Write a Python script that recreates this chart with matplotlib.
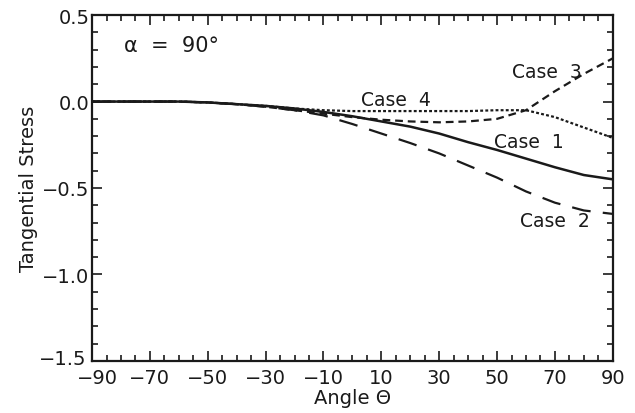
import matplotlib
matplotlib.use('Agg')
import matplotlib.pyplot as plt
from matplotlib.ticker import MultipleLocator
from matplotlib.transforms import ScaledTranslation

# angle (deg) and tangential stress
theta = [-90, -80, -70, -60, -50, -40, -30, -20, -10, 0, 10, 20, 30, 40, 50, 60, 70, 80, 90]
case1 = [0, 0, 0, 0, -0.005, -0.015, -0.025, -0.04, -0.06, -0.085, -0.115, -0.145, -0.185,
         -0.235, -0.28, -0.33, -0.38, -0.425, -0.45]
case2 = [0, 0, 0, 0, -0.005, -0.015, -0.03, -0.05, -0.08, -0.13, -0.185, -0.24, -0.30,
         -0.37, -0.44, -0.52, -0.585, -0.63, -0.65]
case3 = [0, 0, 0, 0, -0.005, -0.015, -0.03, -0.05, -0.07, -0.09, -0.105, -0.115, -0.12,
         -0.115, -0.10, -0.05, 0.06, 0.16, 0.25]
case4 = [0, 0, 0, 0, -0.005, -0.015, -0.025, -0.04, -0.05, -0.055, -0.055, -0.055, -0.055,
         -0.055, -0.05, -0.05, -0.09, -0.15, -0.21]

xticks = [-90, -70, -50, -30, -10, 10, 30, 50, 70, 90]
yticks = [0.5, 0.0, -0.5, -1.0, -1.5]

fig = plt.figure(figsize=(6.35, 4.14), dpi=100)
ax = fig.add_axes([0.145, 0.126, 0.82, 0.835])

ink = '#1a1a1a'
ax.plot(theta, case1, color=ink, lw=1.8)
ax.plot(theta, case2, color=ink, lw=1.6, dashes=(8.5, 5.5))
ax.plot(theta, case3, color=ink, lw=1.6, dashes=(3.5, 2.2))
ax.plot(theta, case4, color=ink, lw=1.6, dashes=(1.3, 1.0))

ax.set_xlim(-90, 90)
ax.set_ylim(-1.5, 0.5)
ax.set_xticks(xticks)
ax.set_yticks(yticks)
ax.set_yticklabels(['0.5', '0.0', '\u22120.5', '\u22121.0', '\u22121.5'])
ax.set_xticklabels([str(t).replace('-', '\u2212') for t in xticks])
ax.xaxis.set_minor_locator(MultipleLocator(5))
ax.yaxis.set_minor_locator(MultipleLocator(0.1))
ax.tick_params(which='both', direction='in', top=True, right=True, colors=ink,
               labelsize=14, width=1.2)
ax.tick_params(which='major', length=7)
ax.tick_params(which='minor', length=4)
ax.tick_params(axis='x', pad=5)
ax.tick_params(axis='y', pad=2)
for s in ax.spines.values():
    s.set_linewidth(1.6)
    s.set_color(ink)

# nudge the corner labels apart, as in the original
xl0 = ax.get_xticklabels()[0]
xl0.set_transform(xl0.get_transform() + ScaledTranslation(4 / 72, 0, fig.dpi_scale_trans))
yl0 = ax.get_yticklabels()[-1]
yl0.set_transform(yl0.get_transform() + ScaledTranslation(-2 / 72, 3 / 72, fig.dpi_scale_trans))

ax.set_xlabel('Angle \u0398', fontsize=14, color=ink, labelpad=1)
ax.set_ylabel('Tangential Stress', fontsize=14, color=ink, labelpad=1)

ax.text(-79, 0.33, '\u03b1  =  90\u00b0', fontsize=15, color=ink, va='center')
ax.text(55, 0.175, 'Case  3', fontsize=13.5, color=ink, va='center')
ax.text(3, 0.01, 'Case  4', fontsize=13.5, color=ink, va='center')
ax.text(49, -0.233, 'Case  1', fontsize=13.5, color=ink, va='center')
ax.text(58, -0.69, 'Case  2', fontsize=13.5, color=ink, va='center')

fig.savefig('out.png', dpi=100)
